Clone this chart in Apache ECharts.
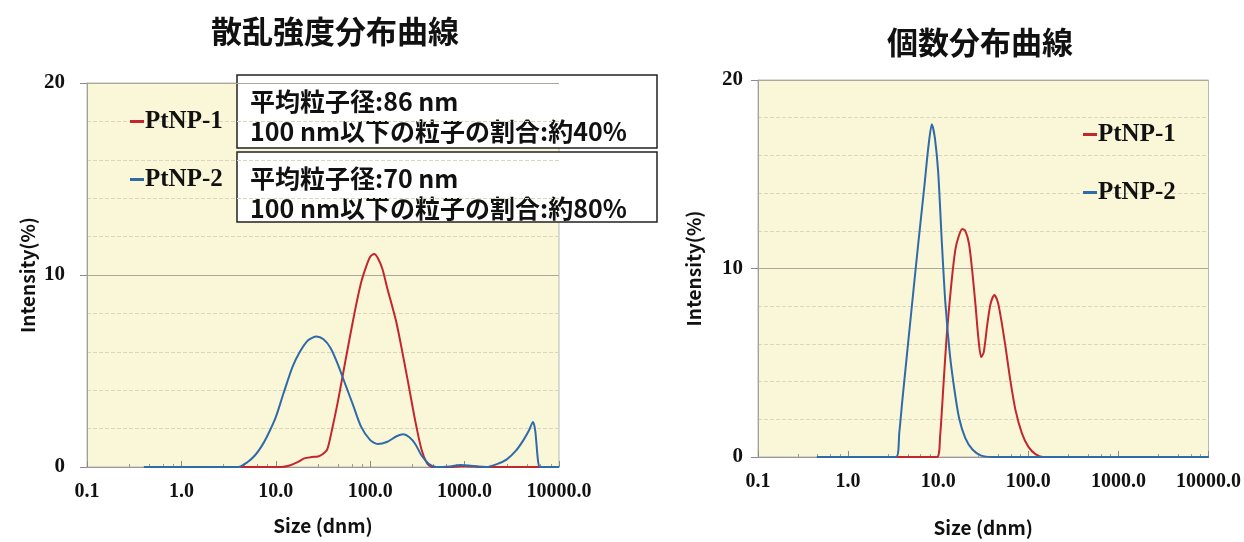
<!DOCTYPE html>
<html>
<head>
<meta charset="utf-8">
<script src="https://cdn.jsdelivr.net/npm/echarts@6/dist/echarts.min.js"></script>
<style>
html,body{margin:0;padding:0;background:#fff;}
#c{width:1244px;height:542px;}
</style>
</head>
<body>
<div id="c"></div>
<script>
// ---- Data ----
const xTickLabels = ['0.1', '1.0', '10.0', '100.0', '1000.0', '10000.0'];
const seriesNames = ['PtNP-1', 'PtNP-2'];
const chartTitles = ['散乱強度分布曲線', '個数分布曲線'];
const boxLines1 = ['平均粒子径:86 nm', '100 nm以下の粒子の割合:約40%'];
const boxLines2 = ['平均粒子径:70 nm', '100 nm以下の粒子の割合:約80%'];

// Scattering intensity distribution (left)
const intSizeP1 = [4.2, 6, 8, 11.5, 14, 17, 20, 24, 28, 31, 35, 40, 45, 50, 60, 70, 80, 90, 100, 110, 120, 135, 150, 190, 250, 300, 350, 400, 450, 700, 1000, 1300, 1700, 3000, 6500];
const intValP1  = [0, 0, 0, 0, 0.08, 0.25, 0.45, 0.52, 0.55, 0.65, 0.9, 2.1, 3.3, 4.5, 6.6, 8.3, 9.6, 10.4, 10.95, 11.1, 10.9, 10.3, 9.4, 7.5, 4.5, 2.4, 0.9, 0.2, 0, 0, 0.05, 0.02, 0, 0, 0];
const intSizeP2 = [0.4, 1, 2, 4, 5, 6, 7, 8, 10, 12, 15, 18, 22, 27, 32, 38, 45, 55, 65, 80, 100, 120, 150, 190, 225, 260, 300, 350, 420, 500, 700, 900, 1100, 1400, 1700, 2200, 2800, 3500, 4200, 4800, 5300, 5600, 6000, 6300, 10000];
const intValP2  = [0, 0, 0, 0, 0.25, 0.6, 1.05, 1.55, 2.6, 3.8, 5.2, 6.0, 6.6, 6.8, 6.65, 6.2, 5.4, 4.25, 3.3, 2.1, 1.4, 1.2, 1.3, 1.6, 1.7, 1.55, 1.2, 0.6, 0.15, 0, 0.03, 0.1, 0.08, 0.02, 0, 0.15, 0.4, 0.85, 1.4, 1.9, 2.35, 1.9, 0.3, 0, 0];

// Number distribution (right)
const numSizeP1 = [3.4, 6, 9.7, 10.5, 11.5, 12.5, 14, 15.5, 17, 18.5, 20, 22, 24, 26, 28, 30, 32, 35, 38, 42, 46, 50, 56, 63, 72, 85, 100, 120, 145, 1000, 10000];
const numValP1  = [0, 0, 0, 1.1, 4.0, 6.6, 9.2, 11.0, 11.75, 12.1, 12.0, 11.3, 9.75, 8.0, 6.25, 5.3, 5.55, 7.0, 8.1, 8.6, 8.2, 7.3, 5.8, 4.1, 2.5, 1.25, 0.55, 0.15, 0, 0, 0];
const numSizeP2 = [0.45, 1, 2, 3.4, 3.7, 4, 5, 6, 7, 7.8, 8.5, 9.2, 10, 11, 12, 13.5, 15, 17, 20, 24, 30, 40, 100, 1000, 10000];
const numValP2  = [0, 0, 0, 0, 1.3, 3.0, 7.6, 11.3, 14.3, 16.5, 17.65, 16.9, 15.1, 11.3, 8.2, 5.4, 3.7, 2.1, 1.0, 0.4, 0.07, 0, 0, 0, 0];

// ---- Styles ----
const RED = '#C4262E', BLUE = '#2F6BA8';
const SERIF = '"Liberation Serif", "DejaVu Serif", serif';
const JP = '"Noto Sans CJK JP", "Noto Sans", sans-serif';
const zip = (xs, ys) => xs.map((x, i) => [x, ys[i]]);

function xAxisCfg(gridIndex, nameGap) {
  return {
    type: 'log', logBase: 10, gridIndex, min: 0.1, max: 10000,
    name: 'Size (dnm)', nameLocation: 'middle', nameGap,
    nameTextStyle: { fontFamily: JP, fontWeight: 'bold', fontSize: 19, color: '#111' },
    axisLine: { show: true, lineStyle: { color: '#9a9a9a', width: 1 } },
    axisTick: { show: true, inside: true, length: 6, lineStyle: { color: '#8a8a8a' } },
    minorTick: { show: true, splitNumber: 5, length: 3, lineStyle: { color: '#9a9a9a' } },
    splitLine: { show: false },
    axisLabel: {
      fontFamily: SERIF, fontWeight: 'bold', fontSize: 20, color: '#111', margin: 15,
      formatter: v => xTickLabels[Math.round(Math.log10(v)) + 1] || ''
    }
  };
}
function yAxisCfg(gridIndex, nameGap, labelMargin) {
  return {
    type: 'value', gridIndex, min: 0, max: 20, interval: 10,
    name: 'Intensity(%)', nameLocation: 'middle', nameGap,
    nameTextStyle: { fontFamily: JP, fontWeight: 'bold', fontSize: 19, color: '#111' },
    axisLine: { show: true, lineStyle: { color: '#a0a0a0', width: 1 } },
    axisTick: { show: true, length: 7, lineStyle: { color: '#8a8a8a' } },
    minorTick: { show: false, splitNumber: 5 },
    splitLine: { show: true, lineStyle: { color: '#aaa99c', width: 1 } },
    minorSplitLine: { show: true, lineStyle: { color: '#d9d6bf', width: 1, type: 'dashed' } },
    axisLabel: { fontFamily: SERIF, fontWeight: 'bold', fontSize: 21, color: '#111', margin: labelMargin }
  };
}
function lineSeries(name, data, xi, color) {
  return {
    type: 'line', name, data, xAxisIndex: xi, yAxisIndex: xi,
    smooth: 0.25, showSymbol: false, symbol: 'none',
    lineStyle: { color, width: 2 }, itemStyle: { color }
  };
}
function legendCfg(left, top) {
  return {
    data: seriesNames, orient: 'vertical', left, top, padding: 0,
    itemGap: 33, itemWidth: 14, itemHeight: 3, icon: 'rect',
    textStyle: { fontFamily: SERIF, fontWeight: 'bold', fontSize: 25, color: '#111', padding: [0, 0, 0, -4] }
  };
}
function box(y, h, lines) {
  return {
    type: 'group', children: [
      { type: 'rect', shape: { x: 237, y, width: 420, height: h }, style: { fill: '#fff', stroke: '#222', lineWidth: 1.5 } },
      { type: 'text', x: 250, y: y + 26, style: { text: lines[0], font: 'bold 25px ' + JP, fill: '#111', textVerticalAlign: 'middle' } },
      { type: 'text', x: 250, y: y + 56, style: { text: lines[1], font: 'bold 25px ' + JP, fill: '#111', textVerticalAlign: 'middle' } }
    ]
  };
}

const chart = echarts.init(document.getElementById('c'), null, { renderer: 'canvas' });
chart.setOption({
  backgroundColor: '#ffffff',
  animation: false,
  grid: [
    { left: 87, top: 83, width: 472, height: 384, show: true, backgroundColor: '#FAF7D8', borderColor: '#b8b8b0', borderWidth: 1 },
    { left: 758, top: 80, width: 452, height: 383, show: true, backgroundColor: '#FAF7D8', borderColor: '#b8b8b0', borderWidth: 1 }
  ],
  xAxis: [xAxisCfg(0, 49), xAxisCfg(1, 61)],
  yAxis: [yAxisCfg(0, 50, 22), yAxisCfg(1, 55, 15)],
  legend: [legendCfg(130, 109), legendCfg(1083, 122)],
  series: [
    lineSeries(seriesNames[0], zip(intSizeP1, intValP1), 0, RED),
    lineSeries(seriesNames[1], zip(intSizeP2, intValP2), 0, BLUE),
    lineSeries(seriesNames[0], zip(numSizeP1, numValP1), 1, RED),
    lineSeries(seriesNames[1], zip(numSizeP2, numValP2), 1, BLUE)
  ],
  graphic: [
    { type: 'text', x: 335, y: 31, style: { text: chartTitles[0], font: 'bold 31px ' + JP, fill: '#111', textAlign: 'center', textVerticalAlign: 'middle' } },
    { type: 'text', x: 980, y: 42, style: { text: chartTitles[1], font: 'bold 31px ' + JP, fill: '#111', textAlign: 'center', textVerticalAlign: 'middle' } },
    box(75, 73, boxLines1),
    box(152, 70, boxLines2)
  ]
});
</script>
</body>
</html>
